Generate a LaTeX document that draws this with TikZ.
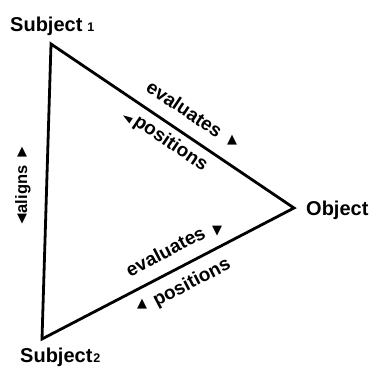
\documentclass[tikz,border=0pt]{standalone}
\usepackage{fontspec}
\setmainfont{Liberation Sans}
\newfontfamily\trifont{DejaVu Sans}
\begin{document}
\begin{tikzpicture}[x=1pt,y=-1pt,
  vlabel/.style={inner sep=0pt,font=\fontsize{20}{21}\selectfont\bfseries},
  elabel/.style={inner sep=0pt,font=\fontsize{19}{20}\selectfont\bfseries},
  alabel/.style={inner sep=0pt,font=\fontsize{16.5}{17}\selectfont\bfseries},
  tri/.style={inner sep=0pt,font=\fontsize{13}{13}\selectfont\trifont},
  edge/.style={line width=2.8pt,line join=miter}]
\useasboundingbox (0,0) rectangle (372,367);
\coordinate (s1) at (51,44);
\coordinate (obj) at (294,208);
\coordinate (s2) at (42,339);
\draw[edge] (s1) -- (obj) -- (s2) -- cycle;
% vertex labels
\node[vlabel,anchor=base west] (ls1) at (10,31) {Subject\hspace{5pt}{\fontsize{12.5}{12}\selectfont 1}};
\node[vlabel,anchor=base west] (lobj) at (306,215) {Object};
\node[vlabel,anchor=base west] (ls2) at (20,362) {Subject\hspace{1pt}{\fontsize{12.5}{12}\selectfont 2}};
% top edge
\node[elabel,rotate=-34] (ev1) at (184.6,108.8) {evaluates};
\node[tri] (t1) at (232,140) {▲};
\node[elabel,rotate=-34] (po1) at (170.6,143.9) {positions};
\node[tri,rotate=-34] (t2) at (127,119) {◄};
% bottom edge
\node[elabel,rotate=27.5] (ev2) at (165.3,251.2) {evaluates};
\node[tri] (t3) at (217,231) {▼};
\node[elabel,rotate=27.5] (po2) at (192,283) {positions};
\node[tri] (t4) at (142,304) {▲};
% left edge
\node[alabel,rotate=90] (al) at (23,189.5) {aligns};
\node[tri] (t5) at (22,152) {▲};
\node[tri] (t6) at (22,219) {▼};
\end{tikzpicture}
\end{document}
